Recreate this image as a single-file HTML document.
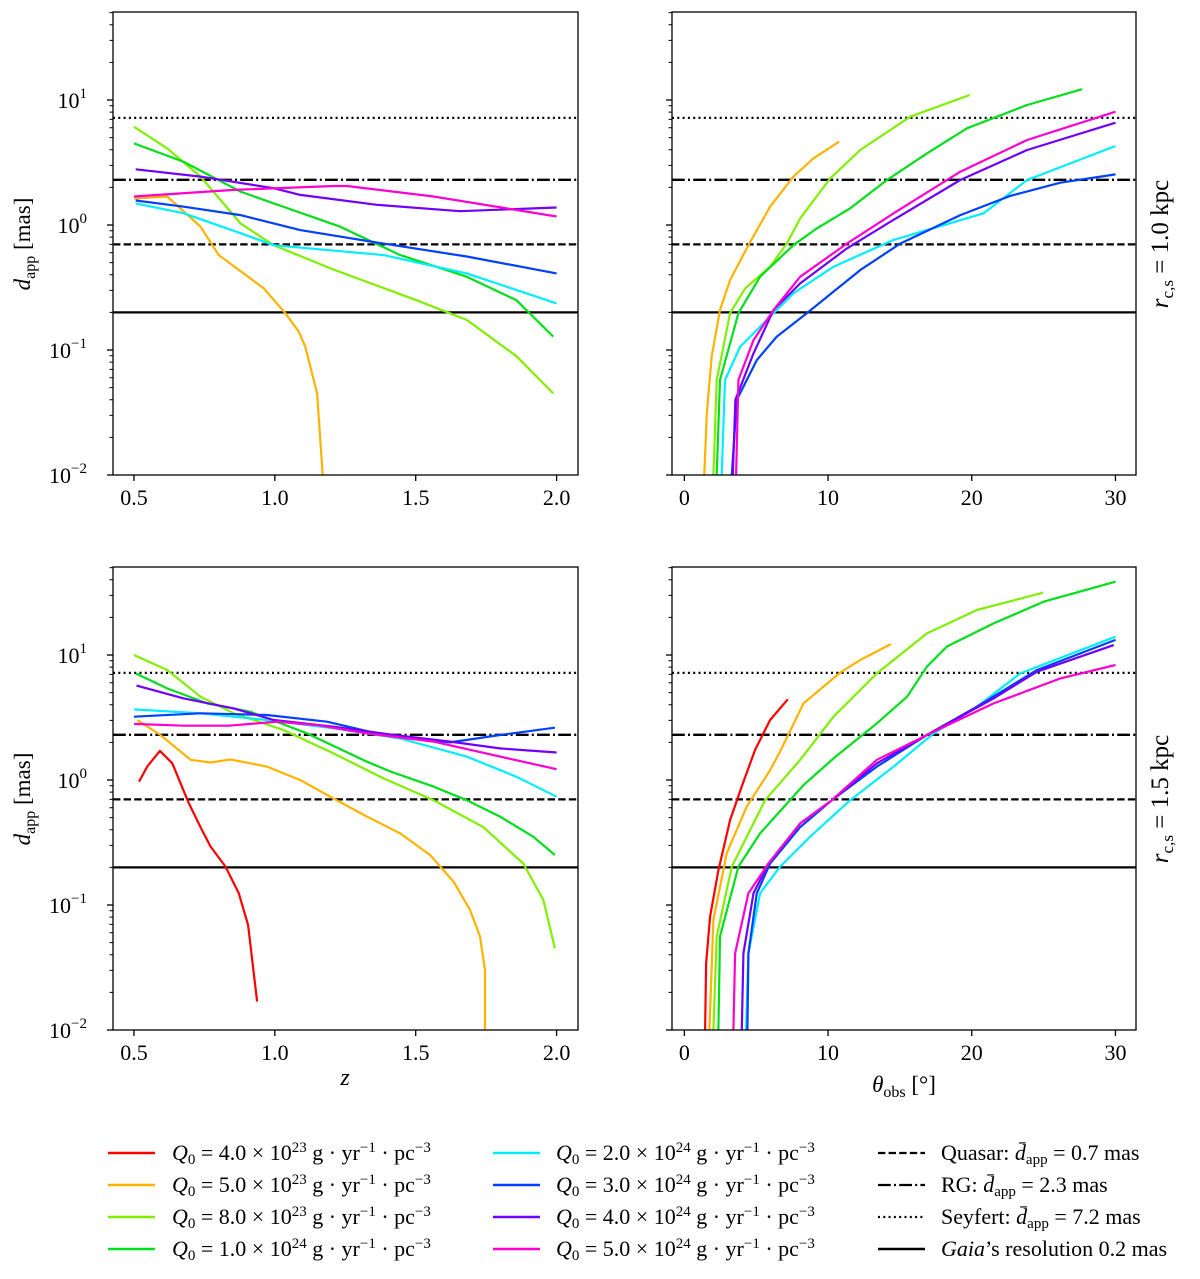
<!DOCTYPE html>
<html><head><meta charset="utf-8"><style>
body{margin:0;background:#fff;}
svg{display:block;font-family:"Liberation Serif",serif;}
</style></head><body>
<svg id="fig" width="1200" height="1279" viewBox="0 0 1200 1279" xmlns="http://www.w3.org/2000/svg"></svg>
<script>
// ---------- data ----------
const seriesNames = ["Q0=4.0e23","Q0=5.0e23","Q0=8.0e23","Q0=1.0e24","Q0=2.0e24","Q0=3.0e24","Q0=4.0e24","Q0=5.0e24"];
const seriesColors = ["#ff0000","#ffb300","#80f000","#00e01a","#00eeff","#0040ff","#7000ff","#ff00d0"];
const refValues = [0.7, 2.3, 7.2, 0.2];
const yTickValues = [0.01, 0.1, 1, 10];
const yTickExps = ["−2","−1","0","1"];
const zTicks = [0.5, 1.0, 1.5, 2.0];
const zTickLabels = ["0.5","1.0","1.5","2.0"];
const thTicks = [0, 10, 20, 30];
const thTickLabels = ["0","10","20","30"];

// top-left (z), rcs = 1.0 kpc
const TL_x1 = [0.5,0.618,0.736,0.801,0.961,1.037,1.085,1.108,1.15,1.164,1.17];
const TL_y1 = [1.63,1.69,0.97,0.575,0.311,0.197,0.14,0.106,0.045,0.0158,0.01];
const TL_x2 = [0.5,0.618,0.736,0.878,0.996,1.209,1.504,1.681,1.858,1.988];
const TL_y2 = [6.1,4.1,2.44,1.03,0.69,0.44,0.25,0.174,0.089,0.045];
const TL_x3 = [0.5,0.677,0.878,0.996,1.232,1.445,1.681,1.858,1.988];
const TL_y3 = [4.5,3.2,1.85,1.49,0.97,0.575,0.386,0.25,0.128];
const TL_x4 = [0.506,0.677,0.878,0.996,1.386,1.681,2.0];
const TL_y4 = [1.49,1.24,0.86,0.69,0.575,0.41,0.236];
const TL_x5 = [0.506,0.677,0.878,1.09,1.386,1.681,2.0];
const TL_y5 = [1.57,1.4,1.2,0.91,0.71,0.56,0.41];
const TL_x6 = [0.506,0.736,0.996,1.09,1.362,1.657,2.0];
const TL_y6 = [2.79,2.44,1.97,1.74,1.45,1.29,1.38];
const TL_x7 = [0.5,0.854,1.209,1.256,1.563,2.0];
const TL_y7 = [1.69,1.91,2.05,2.05,1.69,1.17];

// top-right (theta), rcs = 1.0 kpc
const TR_x1 = [1.39,1.56,1.9,2.48,3.18,4.46,5.97,7.59,8.99,10.77];
const TR_y1 = [0.01,0.031,0.089,0.209,0.363,0.69,1.4,2.44,3.42,4.64];
const TR_x2 = [2.02,2.25,3.18,4.23,5.97,7.13,8.06,10.15,12.24,15.72,19.85];
const TR_y2 = [0.01,0.0575,0.197,0.311,0.464,0.71,1.13,2.36,3.98,7.36,10.96];
const TR_x3 = [2.25,2.48,3.76,5.27,7.59,9.22,11.54,14.1,16.88,19.67,23.85,27.68];
const TR_y3 = [0.01,0.0575,0.197,0.386,0.69,0.94,1.36,2.29,3.74,5.94,9.12,12.2];
const TR_x4 = [2.6,2.83,3.88,5.27,7.59,10.38,14.56,20.83,23.85,30];
const TR_y4 = [0.01,0.0575,0.106,0.154,0.284,0.464,0.76,1.24,2.29,4.29];
const TR_x5 = [3.3,3.65,5.04,6.43,8.52,10.38,12.24,15.02,19.2,22.68,26.17,30];
const TR_y5 = [0.01,0.04,0.083,0.128,0.197,0.293,0.436,0.71,1.2,1.71,2.18,2.54];
const TR_x6 = [3.37,3.55,4.81,6.2,8.06,11.31,14.56,19.2,23.85,30];
const TR_y6 = [0.01,0.04,0.094,0.209,0.341,0.65,1.1,2.29,3.98,6.59];
const TR_x7 = [3.6,3.76,4.81,6.2,8.06,11.31,14.56,19.2,23.85,30];
const TR_y7 = [0.01,0.0575,0.12,0.209,0.386,0.71,1.24,2.67,4.79,8.07];

// bottom-left (z), rcs = 1.5 kpc
const BL_x0 = [0.518,0.547,0.592,0.636,0.695,0.736,0.772,0.825,0.872,0.905,0.937];
const BL_y0 = [0.97,1.28,1.71,1.36,0.65,0.42,0.293,0.203,0.124,0.069,0.0169];
const BL_x1 = [0.512,0.594,0.701,0.772,0.843,0.972,1.09,1.209,1.327,1.445,1.551,1.634,1.693,1.728,1.746,1.746];
const BL_y1 = [3.02,2.29,1.45,1.38,1.46,1.28,1.0,0.71,0.51,0.374,0.251,0.154,0.091,0.056,0.030,0.01];
const BL_x2 = [0.5,0.618,0.736,0.854,1.031,1.209,1.386,1.563,1.74,1.882,1.953,1.994];
const BL_y2 = [10,7.59,4.64,3.42,2.51,1.63,1.03,0.69,0.42,0.215,0.11,0.045];
const BL_x3 = [0.506,0.618,0.76,0.913,1.114,1.327,1.41,1.563,1.681,1.799,1.917,1.994];
const BL_y3 = [7.13,5.41,4.1,3.52,2.36,1.4,1.17,0.885,0.69,0.51,0.352,0.251];
const BL_x4 = [0.5,0.736,0.972,1.209,1.445,1.681,1.858,2.0];
const BL_y4 = [3.67,3.42,3.02,2.59,2.15,1.54,1.06,0.735];
const BL_x5 = [0.5,0.736,0.972,1.185,1.386,1.622,1.799,1.994];
const BL_y5 = [3.21,3.42,3.31,2.93,2.29,2.0,2.29,2.62];
const BL_x6 = [0.509,0.677,0.854,0.996,1.209,1.421,1.622,1.799,2.0];
const BL_y6 = [5.69,4.5,3.74,3.02,2.67,2.29,2.03,1.79,1.66];
const BL_x7 = [0.5,0.677,0.837,1.008,1.15,1.327,1.563,1.799,2.0];
const BL_y7 = [2.81,2.72,2.72,2.93,2.75,2.36,2.03,1.54,1.22];

// bottom-right (theta), rcs = 1.5 kpc
const BR_x0 = [1.44,1.51,1.79,2.37,3.18,3.99,4.92,5.97,7.2];
const BR_y0 = [0.01,0.034,0.081,0.19,0.479,0.885,1.74,3.02,4.42];
const BR_x1 = [1.74,2.02,2.95,4.34,5.97,6.66,8.29,10.84,12.24,14.37];
const BR_y1 = [0.01,0.076,0.259,0.612,1.2,1.69,4.1,7.22,9.12,12.2];
const BR_x2 = [2.02,2.25,3.3,5.62,8.06,10.38,13.4,16.88,20.36,24.96];
const BR_y2 = [0.01,0.056,0.203,0.69,1.45,3.21,7.13,14.9,22.9,31.5];
const BR_x3 = [2.37,2.48,3.76,5.27,8.29,10.38,13.4,15.5,16.88,18.27,21.52,25.0,30];
const BR_y3 = [0.01,0.056,0.203,0.374,0.91,1.49,2.84,4.64,8.07,11.7,17.9,26.7,38.6];
const BR_x4 = [4.3,4.46,5.27,6.66,8.75,11.54,14.56,17.35,20.36,23.38,30];
const BR_y4 = [0.01,0.041,0.124,0.203,0.352,0.69,1.28,2.36,3.86,7.13,14.0];
const BR_x5 = [4.39,4.46,5.04,5.97,8.06,10.26,13.4,16.88,20.36,24.54,30];
const BR_y5 = [0.01,0.041,0.124,0.215,0.42,0.69,1.28,2.29,3.86,7.59,13.2];
const BR_x6 = [4.0,4.11,4.81,5.85,8.06,10.26,13.4,16.88,21.52,24.54,29.88];
const BR_y6 = [0.01,0.041,0.124,0.215,0.45,0.69,1.36,2.29,4.5,7.36,12.0];
const BR_x7 = [3.41,3.53,4.46,5.85,8.06,10.26,13.4,17.11,21.52,26.17,30];
const BR_y7 = [0.01,0.041,0.124,0.215,0.45,0.69,1.45,2.36,4.1,6.5,8.32];

// ---------- drawing ----------
const NS="http://www.w3.org/2000/svg";
const svg=document.getElementById('fig');
function mk(tag,attrs,parent){const e=document.createElementNS(NS,tag);for(const k in attrs)e.setAttribute(k,attrs[k]);(parent||svg).appendChild(e);return e;}

const YMIN=Math.log10(0.01), YMAX=Math.log10(50.6);
const panels=[
 {id:"tl",x0:113,x1:578,y0:12,y1:475,xmin:0.4256,xmax:2.076,xt:zTicks,xl:zTickLabels,ylab:true,data:[[null,null],[TL_x1,TL_y1],[TL_x2,TL_y2],[TL_x3,TL_y3],[TL_x4,TL_y4],[TL_x5,TL_y5],[TL_x6,TL_y6],[TL_x7,TL_y7]]},
 {id:"tr",x0:672,x1:1136,y0:12,y1:475,xmin:-0.86,xmax:31.43,xt:thTicks,xl:thTickLabels,ylab:false,data:[[null,null],[TR_x1,TR_y1],[TR_x2,TR_y2],[TR_x3,TR_y3],[TR_x4,TR_y4],[TR_x5,TR_y5],[TR_x6,TR_y6],[TR_x7,TR_y7]]},
 {id:"bl",x0:113,x1:578,y0:567,y1:1030,xmin:0.4256,xmax:2.076,xt:zTicks,xl:zTickLabels,ylab:true,data:[[BL_x0,BL_y0],[BL_x1,BL_y1],[BL_x2,BL_y2],[BL_x3,BL_y3],[BL_x4,BL_y4],[BL_x5,BL_y5],[BL_x6,BL_y6],[BL_x7,BL_y7]]},
 {id:"br",x0:672,x1:1136,y0:567,y1:1030,xmin:-0.86,xmax:31.43,xt:thTicks,xl:thTickLabels,ylab:false,data:[[BR_x0,BR_y0],[BR_x1,BR_y1],[BR_x2,BR_y2],[BR_x3,BR_y3],[BR_x4,BR_y4],[BR_x5,BR_y5],[BR_x6,BR_y6],[BR_x7,BR_y7]]}
];
const refDash=["7.4,3.2","12.8,3.2,2,3.2","2,3.3",null];
const refNames=["quasar-line","rg-line","seyfert-line","gaia-line"];

panels.forEach(p=>{
  const sx=v=>p.x0+(v-p.xmin)/(p.xmax-p.xmin)*(p.x1-p.x0);
  const sy=v=>p.y1-(Math.log10(v)-YMIN)/(YMAX-YMIN)*(p.y1-p.y0);
  const g=mk('g',{});
  
  
  const cp=mk('clipPath',{id:'clip-'+p.id},g);
  mk('rect',{x:p.x0,y:p.y0,width:p.x1-p.x0,height:p.y1-p.y0},cp);
  const plot=mk('g',{'clip-path':'url(#clip-'+p.id+')'},g);
  refValues.forEach((v,i)=>{
    const l=mk('line',{x1:p.x0,x2:p.x1,y1:sy(v),y2:sy(v),stroke:'#000','stroke-width':2.3},plot);
    if(refDash[i])l.setAttribute('stroke-dasharray',refDash[i]);
    
    
  });
  p.data.forEach((d,i)=>{
    if(!d[0])return;
    const pts=d[0].map((x,k)=>sx(x).toFixed(1)+','+sy(d[1][k]).toFixed(1));
    const last=d[1][d[1].length-1];
    if(last<=0.0101)pts.push(sx(d[0][d[0].length-1]).toFixed(1)+','+(p.y1+10));
    const pl=mk('polyline',{points:pts.join(' '),fill:'none',stroke:seriesColors[i],'stroke-width':2.2,'stroke-linejoin':'round'},plot);
    
    
  });
  const fr=mk('rect',{x:p.x0,y:p.y0,width:p.x1-p.x0,height:p.y1-p.y0,fill:'none',stroke:'#000','stroke-width':1.3},g);
  
  
  for(let e=-2;e<=1;e++){
    for(let m=1;m<=9;m++){
      const v=m*Math.pow(10,e); if(v>50.6)continue;
      const y=sy(v), len=m===1?6:3.5;
      mk('line',{x1:p.x0-len,x2:p.x0,y1:y,y2:y,stroke:'#000','stroke-width':m===1?1.3:1},g);
    }
  }
  if(p.ylab){
    yTickValues.forEach((v,i)=>{
      const t=mk('text',{x:p.x0-26,y:sy(v)+8,'font-size':22,'text-anchor':'end'},g);
      t.textContent='10';
      const s=mk('tspan',{dy:-10,'font-size':15},t); s.textContent=yTickExps[i];
      
      
    });
  }
  p.xt.forEach((v,i)=>{
    mk('line',{x1:sx(v),x2:sx(v),y1:p.y1,y2:p.y1+6,stroke:'#000','stroke-width':1.3},g);
    const t=mk('text',{x:sx(v),y:p.y1+30,'font-size':22,'text-anchor':'middle'},g);
    t.textContent=p.xl[i];
    
    
  });
});
</script>
<svg width="1200" height="1279" style="position:absolute;left:0;top:0;font-family:'Liberation Serif',serif" xmlns="http://www.w3.org/2000/svg">
  <text x="30" y="244" font-size="23" transform="rotate(-90 30 244)" text-anchor="middle"><tspan font-style="italic">d</tspan><tspan font-size="16" dy="5">app</tspan><tspan dy="-5">  [mas]</tspan></text>
  <text x="30" y="799" font-size="23" transform="rotate(-90 30 799)" text-anchor="middle"><tspan font-style="italic">d</tspan><tspan font-size="16" dy="5">app</tspan><tspan dy="-5">  [mas]</tspan></text>
  <text x="1168" y="244" font-size="25" transform="rotate(-90 1168 244)" text-anchor="middle"><tspan font-style="italic">r</tspan><tspan font-size="17" dy="5">c,s</tspan><tspan dy="-5"> = 1.0 kpc</tspan></text>
  <text x="1168" y="799" font-size="25" transform="rotate(-90 1168 799)" text-anchor="middle"><tspan font-style="italic">r</tspan><tspan font-size="17" dy="5">c,s</tspan><tspan dy="-5"> = 1.5 kpc</tspan></text>
  <text x="345" y="1085" font-size="24" font-style="italic" text-anchor="middle">z</text>
  <text x="904" y="1092" font-size="23" text-anchor="middle"><tspan font-style="italic">θ</tspan><tspan font-size="16" dy="5">obs</tspan><tspan dy="-5">  [°]</tspan></text>
  <g font-size="22">
    <line x1="108" x2="155" y1="1153" y2="1153" stroke="#ff0000" stroke-width="2.5"/>
    <text x="172" y="1160"><tspan font-style="italic">Q</tspan><tspan font-size="15" dy="4">0</tspan><tspan dy="-4"> = 4.0 × 10</tspan><tspan font-size="15" dy="-8">23</tspan><tspan dy="8"> g · yr</tspan><tspan font-size="15" dy="-8">−1</tspan><tspan dy="8"> · pc</tspan><tspan font-size="15" dy="-8">−3</tspan></text>
    <line x1="108" x2="155" y1="1185" y2="1185" stroke="#ffb300" stroke-width="2.5"/>
    <text x="172" y="1192"><tspan font-style="italic">Q</tspan><tspan font-size="15" dy="4">0</tspan><tspan dy="-4"> = 5.0 × 10</tspan><tspan font-size="15" dy="-8">23</tspan><tspan dy="8"> g · yr</tspan><tspan font-size="15" dy="-8">−1</tspan><tspan dy="8"> · pc</tspan><tspan font-size="15" dy="-8">−3</tspan></text>
    <line x1="108" x2="155" y1="1217" y2="1217" stroke="#80f000" stroke-width="2.5"/>
    <text x="172" y="1224"><tspan font-style="italic">Q</tspan><tspan font-size="15" dy="4">0</tspan><tspan dy="-4"> = 8.0 × 10</tspan><tspan font-size="15" dy="-8">23</tspan><tspan dy="8"> g · yr</tspan><tspan font-size="15" dy="-8">−1</tspan><tspan dy="8"> · pc</tspan><tspan font-size="15" dy="-8">−3</tspan></text>
    <line x1="108" x2="155" y1="1249" y2="1249" stroke="#00e01a" stroke-width="2.5"/>
    <text x="172" y="1256"><tspan font-style="italic">Q</tspan><tspan font-size="15" dy="4">0</tspan><tspan dy="-4"> = 1.0 × 10</tspan><tspan font-size="15" dy="-8">24</tspan><tspan dy="8"> g · yr</tspan><tspan font-size="15" dy="-8">−1</tspan><tspan dy="8"> · pc</tspan><tspan font-size="15" dy="-8">−3</tspan></text>
    <line x1="493" x2="540" y1="1153" y2="1153" stroke="#00eeff" stroke-width="2.5"/>
    <text x="556" y="1160"><tspan font-style="italic">Q</tspan><tspan font-size="15" dy="4">0</tspan><tspan dy="-4"> = 2.0 × 10</tspan><tspan font-size="15" dy="-8">24</tspan><tspan dy="8"> g · yr</tspan><tspan font-size="15" dy="-8">−1</tspan><tspan dy="8"> · pc</tspan><tspan font-size="15" dy="-8">−3</tspan></text>
    <line x1="493" x2="540" y1="1185" y2="1185" stroke="#0040ff" stroke-width="2.5"/>
    <text x="556" y="1192"><tspan font-style="italic">Q</tspan><tspan font-size="15" dy="4">0</tspan><tspan dy="-4"> = 3.0 × 10</tspan><tspan font-size="15" dy="-8">24</tspan><tspan dy="8"> g · yr</tspan><tspan font-size="15" dy="-8">−1</tspan><tspan dy="8"> · pc</tspan><tspan font-size="15" dy="-8">−3</tspan></text>
    <line x1="493" x2="540" y1="1217" y2="1217" stroke="#7000ff" stroke-width="2.5"/>
    <text x="556" y="1224"><tspan font-style="italic">Q</tspan><tspan font-size="15" dy="4">0</tspan><tspan dy="-4"> = 4.0 × 10</tspan><tspan font-size="15" dy="-8">24</tspan><tspan dy="8"> g · yr</tspan><tspan font-size="15" dy="-8">−1</tspan><tspan dy="8"> · pc</tspan><tspan font-size="15" dy="-8">−3</tspan></text>
    <line x1="493" x2="540" y1="1249" y2="1249" stroke="#ff00d0" stroke-width="2.5"/>
    <text x="556" y="1256"><tspan font-style="italic">Q</tspan><tspan font-size="15" dy="4">0</tspan><tspan dy="-4"> = 5.0 × 10</tspan><tspan font-size="15" dy="-8">24</tspan><tspan dy="8"> g · yr</tspan><tspan font-size="15" dy="-8">−1</tspan><tspan dy="8"> · pc</tspan><tspan font-size="15" dy="-8">−3</tspan></text>
    <line x1="878" x2="925" y1="1153" y2="1153" stroke="#000" stroke-width="2.3" stroke-dasharray="7.4,3.2"/>
    <text x="941" y="1160">Quasar: <tspan font-style="italic">d̄</tspan><tspan font-size="15" dy="4">app</tspan><tspan dy="-4"> = 0.7 mas</tspan></text>
    <line x1="878" x2="925" y1="1185" y2="1185" stroke="#000" stroke-width="2.3" stroke-dasharray="12.8,3.2,2,3.2"/>
    <text x="941" y="1192">RG: <tspan font-style="italic">d̄</tspan><tspan font-size="15" dy="4">app</tspan><tspan dy="-4"> = 2.3 mas</tspan></text>
    <line x1="878" x2="925" y1="1217" y2="1217" stroke="#000" stroke-width="2.3" stroke-dasharray="2,3.3"/>
    <text x="941" y="1224">Seyfert: <tspan font-style="italic">d̄</tspan><tspan font-size="15" dy="4">app</tspan><tspan dy="-4"> = 7.2 mas</tspan></text>
    <line x1="878" x2="925" y1="1249" y2="1249" stroke="#000" stroke-width="2.5"/>
    <text x="941" y="1256"><tspan font-style="italic">Gaia</tspan>’s resolution 0.2 mas</text>
  </g>
</svg>
</body></html>
